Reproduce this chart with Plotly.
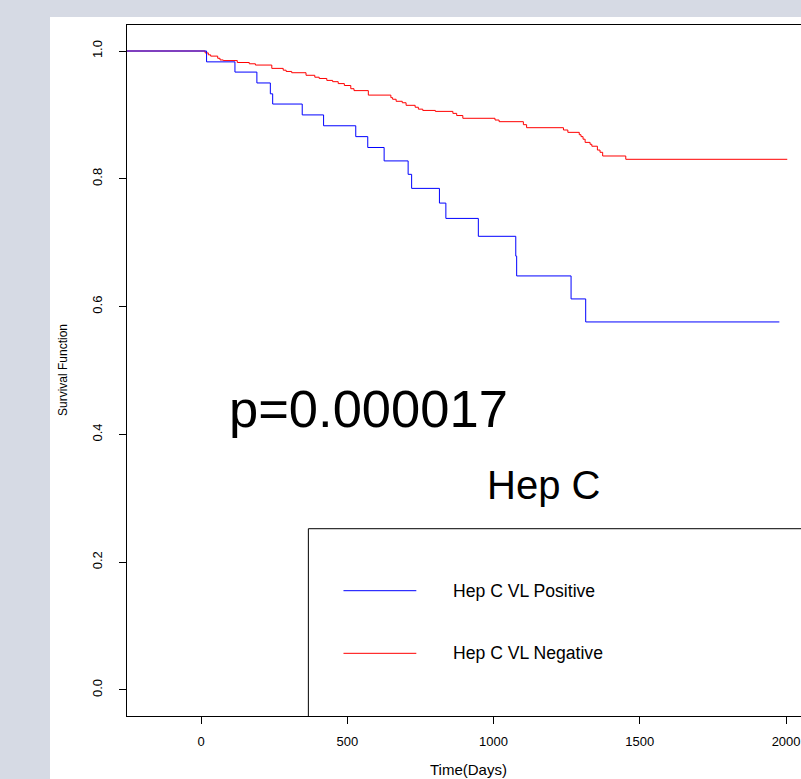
import plotly.graph_objects as go

# ---- data ----
pos_time = [-260, 19, 116, 191, 237, 245, 346, 419, 529, 570, 626, 708, 720, 815, 837, 948, 1076, 1079, 1265, 1315, 1977]
pos_surv = [1.0, 0.983, 0.967, 0.950, 0.933, 0.917, 0.900, 0.883, 0.866, 0.849, 0.828, 0.807, 0.785, 0.762, 0.738, 0.710, 0.679, 0.648, 0.612, 0.576, 0.576]

neg_time = [-260, 14, 25, 33, 57, 65, 76, 124, 165, 186, 242, 281, 291, 310, 359, 389, 404, 430, 450, 469,
            490, 512, 523, 572, 649, 655, 667, 688, 701, 732, 743, 758, 801, 861, 874, 895, 1005, 1019,
            1102, 1113, 1239, 1254, 1293, 1299, 1306, 1313, 1330, 1336, 1355, 1364, 1373, 1452, 2004]
neg_surv = [1.0, 0.997, 0.994, 0.992, 0.9886, 0.986, 0.985, 0.982, 0.980, 0.978, 0.9728, 0.970, 0.968, 0.966,
            0.962, 0.959, 0.957, 0.954, 0.952, 0.949, 0.946, 0.941, 0.938, 0.931, 0.927, 0.9245, 0.9213,
            0.919, 0.915, 0.912, 0.909, 0.907, 0.9055, 0.9024, 0.899, 0.8947, 0.892, 0.8894, 0.8847, 0.880,
            0.8764, 0.8727, 0.869, 0.866, 0.862, 0.857, 0.854, 0.851, 0.845, 0.8415, 0.8357, 0.8305, 0.8305]

x_ticks = [0, 500, 1000, 1500, 2000]
y_ticks = [0.0, 0.2, 0.4, 0.6, 0.8, 1.0]
series_names = ["Hep C VL Positive", "Hep C VL Negative"]
series_colors = ["#0000ff", "#ff0000"]
p_text = "p=0.000017"
title_text = "Hep C"

FONT = "Liberation Sans, Arial, Helvetica, sans-serif"
X_RANGE = [-253, 2051]
Y_RANGE = [-0.0407, 1.0407]

fig = go.Figure()
fig.add_trace(go.Scatter(x=neg_time, y=neg_surv, mode="lines", line=dict(color=series_colors[1], width=1, shape="hv"),
                         showlegend=False, hoverinfo="skip"))
fig.add_trace(go.Scatter(x=pos_time, y=pos_surv, mode="lines", line=dict(color=series_colors[0], width=1, shape="hv"),
                         showlegend=False, hoverinfo="skip"))

# legend box (drawn like R's legend, cropped at the right edge)
lx0, ly1 = 367, 0.2524
fig.add_shape(type="path", xref="x", yref="y",
              path=f"M {lx0},{Y_RANGE[0]} L {lx0},{ly1} L {X_RANGE[1]+50},{ly1}",
              line=dict(color="black", width=1))
leg_y = [0.1554, 0.0574]
for name, col, yy in zip(series_names, series_colors, leg_y):
    fig.add_shape(type="line", xref="x", yref="y", x0=487, x1=736, y0=yy, y1=yy,
                  line=dict(color=col, width=1))
    fig.add_annotation(x=853, y=yy, xref="x", yref="y", text=name, showarrow=False,
                       xanchor="left", yanchor="middle", font=dict(family=FONT, size=17.6, color="black"))

fig.add_annotation(x=572, y=0.441, xref="x", yref="y", text=p_text, showarrow=False,
                   xanchor="center", yanchor="middle", font=dict(family=FONT, size=52.5, color="black"))
fig.add_annotation(x=1171, y=0.321, xref="x", yref="y", text=title_text, showarrow=False,
                   xanchor="center", yanchor="middle", font=dict(family=FONT, size=40, color="black"))

# axis titles
fig.add_annotation(x=0, y=0.5007, xref="paper", yref="paper", xshift=-64, text="Survival Function",
                   textangle=-90, showarrow=False, xanchor="center", yanchor="middle",
                   font=dict(family=FONT, size=12, color="black"))
fig.add_annotation(x=0.5074, y=0, xref="paper", yref="paper", yshift=-53, text="Time(Days)",
                   showarrow=False, xanchor="center", yanchor="middle",
                   font=dict(family=FONT, size=15, color="black"))

# white panel
fig.add_shape(type="rect", xref="paper", yref="paper", x0=-0.11424, x1=1.2, y0=-0.2, y1=1.01158,
              fillcolor="white", line=dict(width=0), layer="below")

fig.update_xaxes(range=X_RANGE, tickvals=x_ticks, ticktext=[str(v) for v in x_ticks],
                 showgrid=False, zeroline=False, showline=True, linecolor="black", linewidth=1,
                 mirror=True, ticks="outside", ticklen=7, tickcolor="black",
                 tickfont=dict(family=FONT, size=13, color="black"), ticklabelstandoff=6)
fig.update_yaxes(range=Y_RANGE, tickvals=y_ticks, ticktext=[f"{v:.1f}" for v in y_ticks],
                 showgrid=False, zeroline=False, showline=True, linecolor="black", linewidth=1,
                 mirror=False, ticks="outside", ticklen=7, tickcolor="black", tickangle=-90,
                 tickfont=dict(family=FONT, size=13, color="black"), ticklabelstandoff=12)

fig.update_layout(width=801, height=779, margin=dict(l=127, r=0, t=25, b=63, autoexpand=False),
                  paper_bgcolor="#d6dae4", plot_bgcolor="white", showlegend=False)

fig.write_html("out.html")
